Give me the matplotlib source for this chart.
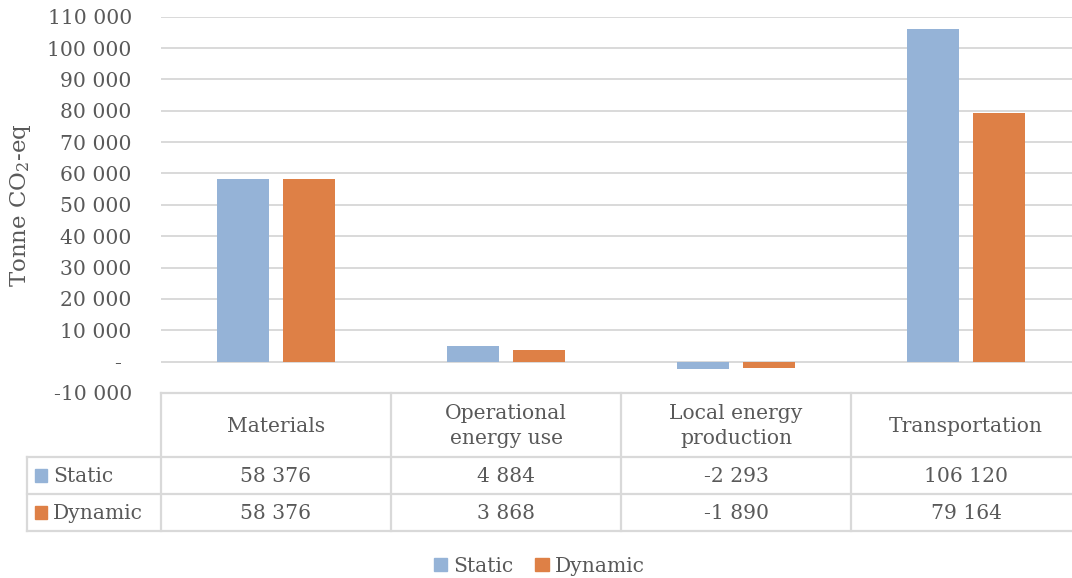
import matplotlib
matplotlib.use("Agg")
import matplotlib.pyplot as plt
from matplotlib.patches import Patch

categories = ["Materials", "Operational\nenergy use", "Local energy\nproduction", "Transportation"]
series = ["Static", "Dynamic"]
static_vals = [58376, 4884, -2293, 106120]
dynamic_vals = [58376, 3868, -1890, 79164]
yticks = list(range(-10000, 110001, 10000))

colors = {"Static": "#95B3D7", "Dynamic": "#DE8046"}
txt = "#595959"
grid = "#D9D9D9"
fs = 14.6

plt.rcParams["font.family"] = ["DejaVu Serif"]
plt.rcParams["mathtext.fontset"] = "dejavuserif"

W, H = 1072, 578
fig = plt.figure(figsize=(W / 100, H / 100), dpi=100)

def box(x0, y0, x1, y1):
    # pixel box (top-left origin) -> figure fraction
    return [x0 / W, 1 - y1 / H, (x1 - x0) / W, (y1 - y0) / H]

def fmt(v):
    if v == 0:
        return "-\u2002"
    return f"{v:,}".replace(",", " ")

# --- bars ---
ax = fig.add_axes(box(161, 16.7, 1081, 393))
x = range(len(categories))
off, bw = 0.1435, 0.224
ax.bar([i - off for i in x], static_vals, bw, color=colors["Static"], zorder=3)
ax.bar([i + off for i in x], dynamic_vals, bw, color=colors["Dynamic"], zorder=3)
ax.set_xlim(-0.5, 3.5)
ax.set_ylim(-10000, 110000)
ax.set_yticks(yticks)
ax.set_yticklabels([fmt(v) for v in yticks])
ax.tick_params(axis="y", length=0, pad=21, labelsize=fs, labelcolor=txt)
ax.set_xticks([])
ax.grid(axis="y", color=grid, linewidth=1.4, zorder=0)
for s in ax.spines.values():
    s.set_visible(False)
ax.patch.set_alpha(0)

fig.text(21 / W, 1 - 205 / H, "Tonne CO$_2$-eq", rotation=90, ha="center",
         va="center", fontsize=16.5, color=txt)

# --- data table ---
left = -0.5 - 134 / 230
tb = fig.add_axes(box(27, 393, 1081, 531))
tb.set_xlim(left, 3.5)
tb.set_ylim(138, 0)
tb.axis("off")
lw = 1.6
rows = [0, 64, 101, 138]
tb.plot([-0.5, 3.5], [0, 0], color=grid, lw=lw, clip_on=False)
for r in rows[1:]:
    tb.plot([left, 3.5], [r, r], color=grid, lw=lw, clip_on=False)
for b in [-0.5, 0.5, 1.5, 2.5, 3.5]:
    tb.plot([b, b], [0, 138], color=grid, lw=lw, clip_on=False)
tb.plot([left, left], [64, 138], color=grid, lw=lw, clip_on=False)

for i, c in enumerate(categories):
    tb.text(i, 33, c, ha="center", va="center", fontsize=fs, color=txt,
            linespacing=1.45)

for k, (name, vals) in enumerate([("Static", static_vals), ("Dynamic", dynamic_vals)]):
    yc = (rows[k + 1] + rows[k + 2]) / 2
    for i, v in enumerate(vals):
        tb.text(i, yc + 1, fmt(v), ha="center", va="center", fontsize=fs, color=txt)
    tb.add_patch(plt.Rectangle((left + 8 / 230, yc - 6.5), 12.5 / 230, 13,
                               color=colors[name], clip_on=False))
    tb.text(left + 26 / 230, yc + 1, name, ha="left", va="center",
            fontsize=fs, color=txt)

# --- legend ---
handles = [Patch(color=colors[s], label=s) for s in series]
fig.legend(handles=handles, loc="center", bbox_to_anchor=(0.503, 1 - 566 / H),
           ncol=2, frameon=False, fontsize=fs, labelcolor=txt,
           handlelength=0.65, handleheight=0.65, handletextpad=0.3,
           columnspacing=1.1)

fig.savefig("out.png", dpi=100)
